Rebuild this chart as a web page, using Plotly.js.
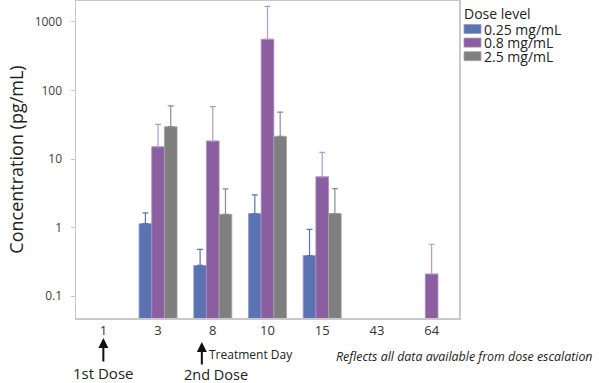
<!DOCTYPE html>
<html>
<head>
<meta charset="utf-8">
<script src="https://cdn.plot.ly/plotly-3.0.1.min.js"></script>
<style>html,body{margin:0;padding:0;background:#fff}#chart{width:599px;height:383px}</style>
</head>
<body>
<div id="chart"></div>
<script>
var days = ['1', '3', '8', '10', '15', '43', '64'];
var seriesNames = ['0.25 mg/mL', '0.8 mg/mL', '2.5 mg/mL'];
var low = [null, 1.14, 0.28, 1.6, 0.39, null, null];
var lowErr = [null, 0.5, 0.2, 1.4, 0.55, null, null];
var mid = [null, 15.1, 18.3, 560, 5.5, null, 0.21];
var midErr = [null, 17, 40, 1130, 7, null, 0.36];
var high = [null, 29.6, 1.56, 21.4, 1.6, null, null];
var highErr = [null, 30, 2.1, 27, 2.1, null, null];
var yTicks = [0.1, 1, 10, 100, 1000];
var yTickText = ['0.1', '1', '10', '100', '1000'];
var legendTitle = 'Dose level';

var fillColors = ['#5b73b3', '#8b5f9f', '#7f7f7f'];
var edgeColors = ['#8e9cc9', '#ad8dbc', '#a6a6a6'];
var errColors = ['#5b73b3', '#b898c8', '#8c8c8c'];
var vals = [low, mid, high];
var errs = [lowErr, midErr, highErr];

var W = 599, H = 383, M = {l: 76, r: 140, t: 1, b: 65};
var pw = W - M.l - M.r, ph = H - M.t - M.b;
function px(x) { return (x - M.l) / pw; }
function py(y) { return (H - M.b - y) / ph; }

var traces = vals.map(function (v, i) {
  return {
    type: 'bar',
    name: seriesNames[i],
    x: days,
    y: v,
    showlegend: false,
    marker: {color: fillColors[i], line: {color: edgeColors[i], width: 0.8}},
    error_y: {
      type: 'data', symmetric: false,
      array: errs[i],
      arrayminus: errs[i].map(function (e) { return e === null ? null : 0; }),
      color: errColors[i], thickness: 1.2, width: 3
    }
  };
});

var fontFam = '"Open Sans", "Noto Sans", sans-serif';

var annotations = [
  {xref: 'x', yref: 'paper', x: 0, y: py(338), text: '', showarrow: true,
   ax: 0, ay: 25, arrowhead: 2, arrowsize: 1, arrowwidth: 2, arrowcolor: '#111'},
  {xref: 'x', yref: 'paper', x: 0, y: py(373), text: '1st Dose', showarrow: false,
   font: {size: 15, color: '#222'}, xanchor: 'center', yanchor: 'middle'},
  {xref: 'x', yref: 'paper', x: 1.80, y: py(342), text: '', showarrow: true,
   ax: 0, ay: 24, arrowhead: 2, arrowsize: 1, arrowwidth: 2, arrowcolor: '#111'},
  {xref: 'x', yref: 'paper', x: 2.06, y: py(374.5), text: '2nd Dose', showarrow: false,
   font: {size: 14.5, color: '#222'}, xanchor: 'center', yanchor: 'middle'},
  {xref: 'paper', yref: 'paper', x: px(207), y: py(354), text: 'Treatment Day', showarrow: false,
   font: {size: 12, color: '#222'}, xanchor: 'left', yanchor: 'middle'},
  {xref: 'paper', yref: 'paper', x: px(334), y: py(356), text: '<i>Reflects all data available from dose escalation</i>',
   showarrow: false, font: {size: 12.4, color: '#222'}, xanchor: 'left', yanchor: 'middle'},
  {xref: 'paper', yref: 'paper', x: px(462), y: py(13.5), text: legendTitle, showarrow: false,
   font: {size: 14, color: '#222'}, xanchor: 'left', yanchor: 'middle'}
];
var shapes = [];
seriesNames.forEach(function (name, i) {
  var cy = 29 + i * 13.6;
  shapes.push({type: 'rect', xref: 'paper', yref: 'paper',
    x0: px(464), x1: px(481), y0: py(cy - 4.5), y1: py(cy + 4.5),
    fillcolor: fillColors[i], line: {color: edgeColors[i], width: 0.8}});
  annotations.push({xref: 'paper', yref: 'paper', x: px(482), y: py(cy), text: name,
    showarrow: false, font: {size: 14, color: '#222'}, xanchor: 'left', yanchor: 'middle'});
});

var layout = {
  width: W, height: H,
  margin: M,
  paper_bgcolor: '#ffffff', plot_bgcolor: '#ffffff',
  font: {family: fontFam, color: '#404040', size: 13},
  barmode: 'group', bargap: 0.305, bargroupgap: 0,
  showlegend: false,
  xaxis: {
    type: 'category', categoryorder: 'array', categoryarray: days,
    range: [-0.5, 6.5], showgrid: false, zeroline: false,
    showline: true, linecolor: '#c8c8c8', linewidth: 1.5, mirror: true,
    ticks: '', tickfont: {size: 13, color: '#333'}
  },
  yaxis: {
    type: 'log', range: [-1.32, 3.306],
    tickvals: yTicks, ticktext: yTickText,
    showgrid: false, zeroline: false,
    showline: true, linecolor: '#c8c8c8', linewidth: 1.5, mirror: true,
    ticks: 'outside', ticklen: 4, tickcolor: '#c8c8c8', tickwidth: 1,
    ticklabelstandoff: 6,
    tickfont: {size: 12, color: '#404040'},
    title: {text: 'Concentration (pg/mL)', font: {size: 18, color: '#222'}, standoff: 6}
  },
  shapes: shapes,
  annotations: annotations
};

Plotly.newPlot('chart', traces, layout, {staticPlot: true, displayModeBar: false});
</script>
</body>
</html>
